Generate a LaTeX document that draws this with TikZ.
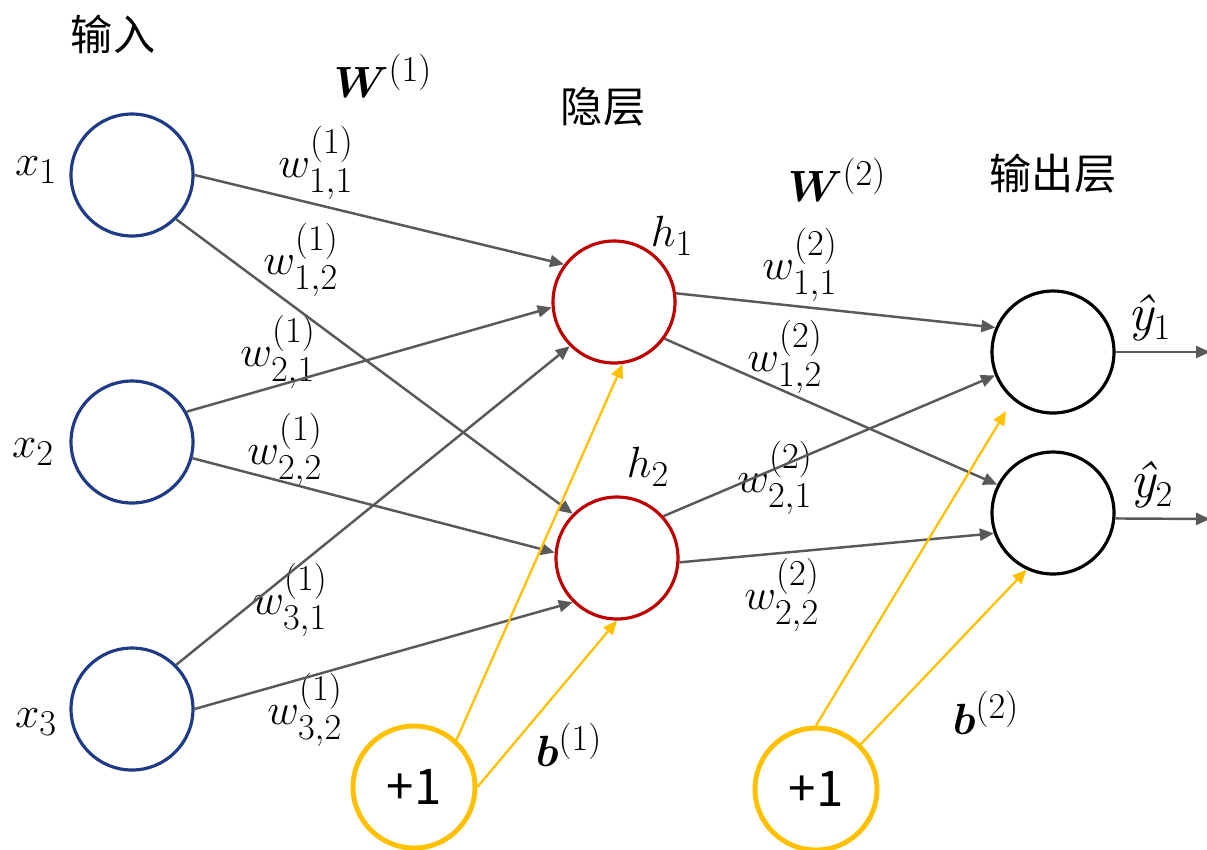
\documentclass[tikz,border=0pt]{standalone}
\usepackage{amsmath}
\usepackage{xcolor}
\usepackage{fontspec}
\newfontfamily\cjk{Noto Sans CJK SC}
\usepackage{tikz}
\usetikzlibrary{arrows.meta}
\definecolor{inblue}{HTML}{1F3B87}
\definecolor{hidred}{HTML}{C00000}
\definecolor{biasyellow}{HTML}{FFC000}
\definecolor{edgegray}{HTML}{595959}

\begin{document}
\begin{tikzpicture}
            [x=0.02cm, y=-0.02cm,
            neuron/.style={draw, circle, minimum size=2.44cm, inner sep=0pt},
            inputnode/.style={neuron, draw=inblue, line width=1.8pt},
            hiddennode/.style={neuron, draw=hidred, line width=1.8pt},
            outputnode/.style={neuron, draw=black, line width=1.8pt},
            biasnode/.style={neuron, draw=biasyellow, line width=2.8pt, font=\cjk\fontsize{28}{30}\selectfont},
            conn/.style={draw=edgegray, line width=1.4pt, -{Triangle[length=0.28cm, width=0.24cm]}},
            biasconn/.style={draw=biasyellow, line width=1.3pt, -{Triangle[length=0.28cm, width=0.24cm]}},
            mathlbl/.style={font=\fontsize{30}{34}\selectfont, inner sep=0pt},
            cnlbl/.style={font=\cjk\fontsize{24}{28}\selectfont, inner sep=0pt}]

            \useasboundingbox (0,0) rectangle (1207,849);

            \node[inputnode] (x1) at (132,175) {};
            \node[inputnode] (x2) at (132,442) {};
            \node[inputnode] (x3) at (132,709) {};
            \node[hiddennode] (h1) at (614,302) {};
            \node[hiddennode] (h2) at (617,558) {};
            \node[outputnode] (y1) at (1053,352) {};
            \node[outputnode] (y2) at (1053,513) {};
            \node[biasnode] (b1) at (414,787) {+1};
            \node[biasnode] (b2) at (816,789) {+1};
            \coordinate (o1) at (1210,352);
            \coordinate (o2) at (1210,519);

            \node[cnlbl] (inlayer) at (113,34) {输入};
            \node[cnlbl] (hidlayer) at (603,107) {隐层};
            \node[cnlbl] (outlayer) at (1053,174) {输出层};
            \node[mathlbl] (W1) at (383,76) {$\boldsymbol{W}^{(1)}$};
            \node[mathlbl] (W2) at (837,180) {$\boldsymbol{W}^{(2)}$};
            \node[mathlbl] (b1lbl) at (569,745) {$\boldsymbol{b}^{(1)}$};
            \node[mathlbl] (b2lbl) at (986,713) {$\boldsymbol{b}^{(2)}$};
            \node[mathlbl] (x1lbl) at (36,170) {$x_1$};
            \node[mathlbl] (x2lbl) at (33,452) {$x_2$};
            \node[mathlbl] (x3lbl) at (36,722) {$x_3$};
            \node[mathlbl] (h1lbl) at (672,236) {$h_1$};
            \node[mathlbl] (h2lbl) at (648,467) {$h_2$};
            \node[mathlbl] (y1lbl) at (1150,318) {\itshape ŷ$_1$};
            \node[mathlbl] (y2lbl) at (1152,485) {\itshape ŷ$_2$};
            \node[mathlbl] (w111) at (316,163) {$w^{(1)}_{1,1}$};
            \node[mathlbl] (w112) at (301,260) {$w^{(1)}_{1,2}$};
            \node[mathlbl] (w121) at (278,352) {$w^{(1)}_{2,1}$};
            \node[mathlbl] (w122) at (285,450) {$w^{(1)}_{2,2}$};
            \node[mathlbl] (w131) at (290,600) {$w^{(1)}_{3,1}$};
            \node[mathlbl] (w132) at (305,710) {$w^{(1)}_{3,2}$};
            \node[mathlbl] (w211) at (800,265) {$w^{(2)}_{1,1}$};
            \node[mathlbl] (w212) at (785,357) {$w^{(2)}_{1,2}$};
            \node[mathlbl] (w221) at (775,478) {$w^{(2)}_{2,1}$};
            \node[mathlbl] (w222) at (782,595) {$w^{(2)}_{2,2}$};

            \draw[conn] (x1.east) -- (h1.143);
            \draw[conn] (x1.-45) -- (h2.135);
            \draw[conn] (x2.29) -- (h1.185);
            \draw[conn] (x2.-15) -- (h2.175);
            \draw[conn] (x3.45) -- (h1.225);
            \draw[conn] (x3.east) -- (h2.225);
            \draw[conn] (h1.8) -- (y1.157);
            \draw[conn] (h1.-36) -- (y2.153);
            \draw[conn] (h2.42) -- (y1.202);
            \draw[conn] (h2.-4) -- (y2.199);
            \draw[conn] (y1.east) -- (o1);
            \draw[conn] (y2.-5) -- (o2);
            \draw[biasconn] (b1.48) -- (h1.-82);
            \draw[biasconn] (b1.east) -- (h2.south);
            \draw[biasconn, shorten >=0.26cm] (b2.north) -- (y1.230);
            \draw[biasconn] (b2.45) -- (y2.245);
        \end{tikzpicture}
\end{document}
